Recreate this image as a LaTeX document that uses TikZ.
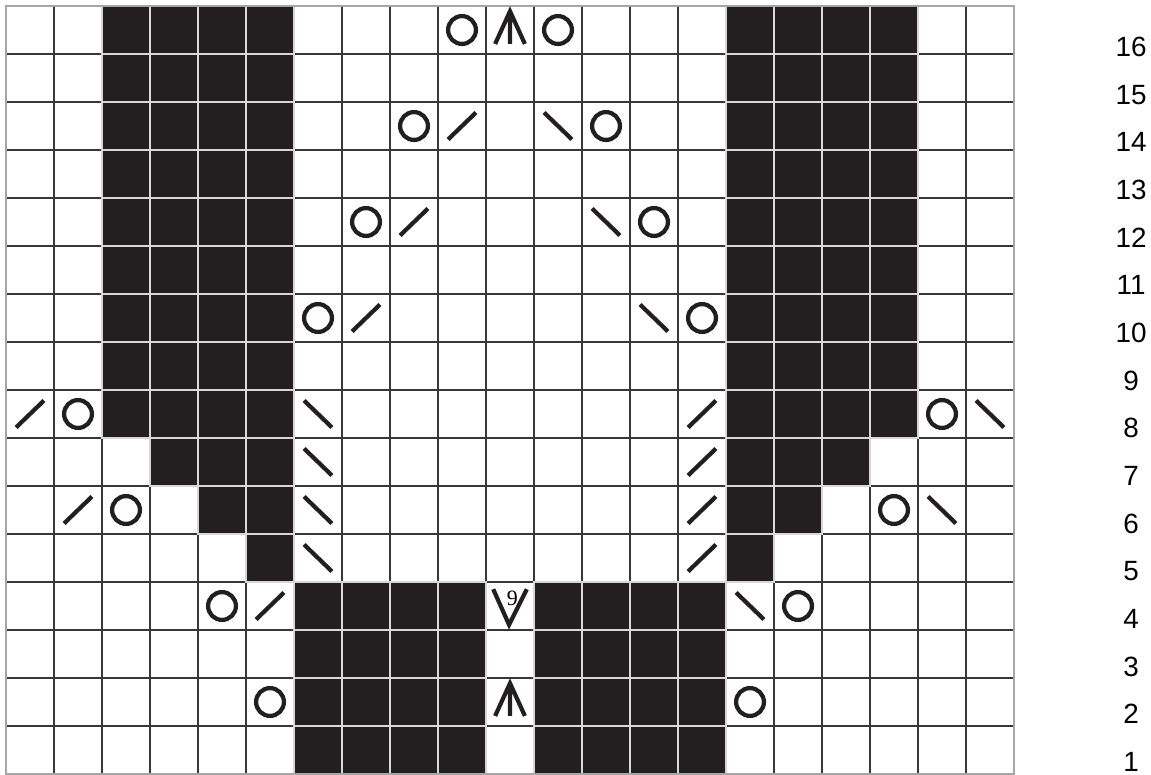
\documentclass[tikz,border=0pt]{standalone}
\usepackage{fontspec}
\setsansfont{Liberation Sans}
\newfontfamily\chartserif{Liberation Serif}
\usetikzlibrary{positioning}
\definecolor{ChartBlack}{RGB}{35,31,32}
\definecolor{ChartGrid}{RGB}{55,55,55}
\definecolor{ChartLight}{RGB}{215,215,215}
\tikzset{
  symbol/.style={draw=ChartBlack,line width=2.5pt},
  yo/.pic={\draw[symbol] (0,0) circle (0.29);},
  ltdec/.pic={\draw[symbol] (-0.29,-0.28) -- (0.29,0.28);},
  rtdec/.pic={\draw[symbol] (-0.29,0.28) -- (0.29,-0.28);},
  cdd/.pic={\draw[symbol] (-0.31,-0.29) -- (0,0.39) -- (0.31,-0.29) (0,0.39) -- (0,-0.29);},
  incnine/.pic={\draw[symbol] (-0.35,0.35) -- (-0.02,-0.39) -- (0.35,0.35);
    \node[inner sep=0pt,font=\chartserif\fontsize{13}{13}\selectfont] (nine) at (0.05,0.17) {9};}
}

\begin{document}
\begin{tikzpicture}[x=1cm,y=1cm, gridline/.style={draw=ChartGrid,line width=0.8pt}, darkcell/.style={fill=ChartBlack,draw=ChartLight,line width=0.8pt}, rowlabel/.style={font=\sffamily\fontsize{16.5}{16.5}\selectfont,anchor=base,inner sep=0pt}]
\useasboundingbox (-0.125,0) rectangle (23.854,16.125);
\fill[white] (-0.125,0) rectangle (23.854,16.125);
\draw[gridline] (0,0) grid (21,16);
\foreach \r/\a/\b in {16/2/5,16/15/18,15/2/5,15/15/18,14/2/5,14/15/18,13/2/5,13/15/18,12/2/5,12/15/18,11/2/5,11/15/18,10/2/5,10/15/18,9/2/5,9/15/18,8/2/5,8/15/18,7/3/5,7/15/17,6/4/5,6/15/16,5/5/5,5/15/15,4/6/9,4/11/14,3/6/9,3/11/14,2/6/9,2/11/14,1/6/9,1/11/14}
  \foreach \c in {\a,...,\b}
    \path[darkcell] (\c,\r-1) rectangle ++(1,1);
\draw[draw=gray!70,line width=0.8pt] (0,0) rectangle (21,16);
\foreach \c/\r in {9/16,11/16,8/14,12/14,7/12,13/12,6/10,14/10,1/8,19/8,2/6,18/6,4/4,16/4,5/2,15/2}
  \pic at (\c+0.5,\r-0.5) {yo};
\foreach \c/\r in {9/14,8/12,7/10,0/8,14/8,14/7,14/6,14/5,1/6,5/4}
  \pic at (\c+0.5,\r-0.5) {ltdec};
\foreach \c/\r in {11/14,12/12,13/10,6/8,6/7,6/6,6/5,20/8,19/6,15/4}
  \pic at (\c+0.5,\r-0.5) {rtdec};
\foreach \r in {16,2}
  \pic at (10.5,\r-0.5) {cdd};
\pic at (10.5,3.5) {incnine};
\foreach \r in {1,...,16}
  \node[rowlabel] (row\r) at (23.44,0.05+\r*0.9931-0.9931) {\r};
\end{tikzpicture}
\end{document}
